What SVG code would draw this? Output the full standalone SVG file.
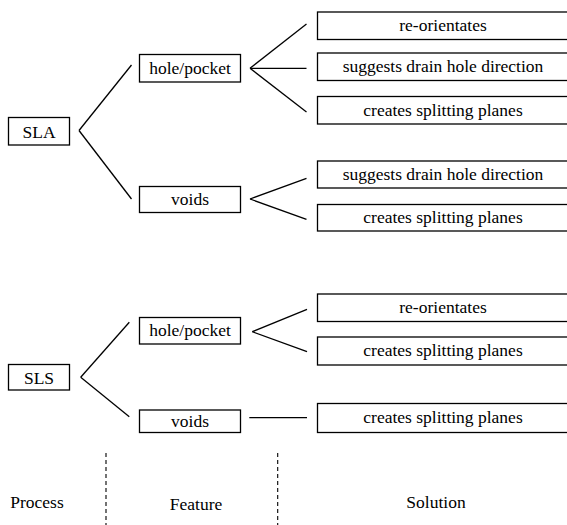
<svg xmlns="http://www.w3.org/2000/svg" width="567" height="525" viewBox="0 0 567 525">
<style>
rect{fill:#fff;stroke:#000;stroke-width:1.3}
text{font-family:"Liberation Serif","Times New Roman",serif;font-size:17.5px;fill:#000;text-anchor:middle}
.c line{stroke:#000;stroke-width:1.3;fill:none}
.d line{stroke:#000;stroke-width:1.1;stroke-dasharray:4 3}
</style>
<rect x="0" y="0" width="567" height="525" style="stroke:none"/>
<g id="sla"><rect x="8.5" y="117.5" width="61" height="27.5"/><text x="39" y="137.5">SLA</text></g>
<g id="sla-hole"><rect x="139.5" y="54.5" width="101" height="27.5"/><text x="190" y="74">hole/pocket</text></g>
<g id="sla-voids"><rect x="139.5" y="186.5" width="101" height="26"/><text x="190" y="205">voids</text></g>
<g id="s1"><rect x="317.5" y="12" width="260" height="27.5"/><text x="443" y="31">re-orientates</text></g>
<g id="s2"><rect x="317.5" y="53" width="260" height="27.5"/><text x="443" y="72">suggests drain hole direction</text></g>
<g id="s3"><rect x="317.5" y="96.5" width="260" height="27.5"/><text x="443" y="115.5">creates splitting planes</text></g>
<g id="s4"><rect x="317.5" y="161" width="260" height="27"/><text x="443" y="180">suggests drain hole direction</text></g>
<g id="s5"><rect x="317.5" y="204.5" width="260" height="26.5"/><text x="443" y="223">creates splitting planes</text></g>
<g id="sls"><rect x="8.5" y="364.5" width="61" height="25.5"/><text x="39" y="383.5">SLS</text></g>
<g id="sls-hole"><rect x="139.5" y="317.5" width="101" height="26.5"/><text x="190" y="336">hole/pocket</text></g>
<g id="sls-voids"><rect x="139.5" y="410" width="101" height="22.5"/><text x="190" y="427">voids</text></g>
<g id="s6"><rect x="317.5" y="294" width="260" height="27.5"/><text x="443" y="313">re-orientates</text></g>
<g id="s7"><rect x="317.5" y="337" width="260" height="28"/><text x="443" y="356">creates splitting planes</text></g>
<g id="s8"><rect x="317.5" y="403.5" width="260" height="29"/><text x="443" y="423">creates splitting planes</text></g>
<g class="c" id="connectors">
<line x1="131.5" y1="65" x2="79" y2="130.5"/><line x1="79" y1="130.5" x2="131.5" y2="199"/>
<line x1="306.5" y1="24" x2="250" y2="68.3"/><line x1="250" y1="68.3" x2="306.5" y2="68.3"/><line x1="250" y1="68.3" x2="306.5" y2="112"/>
<line x1="306.5" y1="178.3" x2="250" y2="199"/><line x1="250" y1="199" x2="306.5" y2="219.3"/>
<line x1="129.3" y1="322.3" x2="80.7" y2="377.3"/><line x1="80.7" y1="377.3" x2="129.3" y2="416.7"/>
<line x1="307" y1="309.3" x2="252.3" y2="331.7"/><line x1="252.3" y1="331.7" x2="307" y2="351.7"/>
<line x1="249.3" y1="417.7" x2="307" y2="417.7"/>
</g>
<g class="d" id="dividers">
<line x1="106" y1="453" x2="106" y2="525"/><line x1="277.7" y1="453" x2="277.7" y2="525"/>
</g>
<g id="labels">
<text x="37" y="508">Process</text><text x="196" y="510">Feature</text><text x="436" y="508">Solution</text>
</g>
</svg>
